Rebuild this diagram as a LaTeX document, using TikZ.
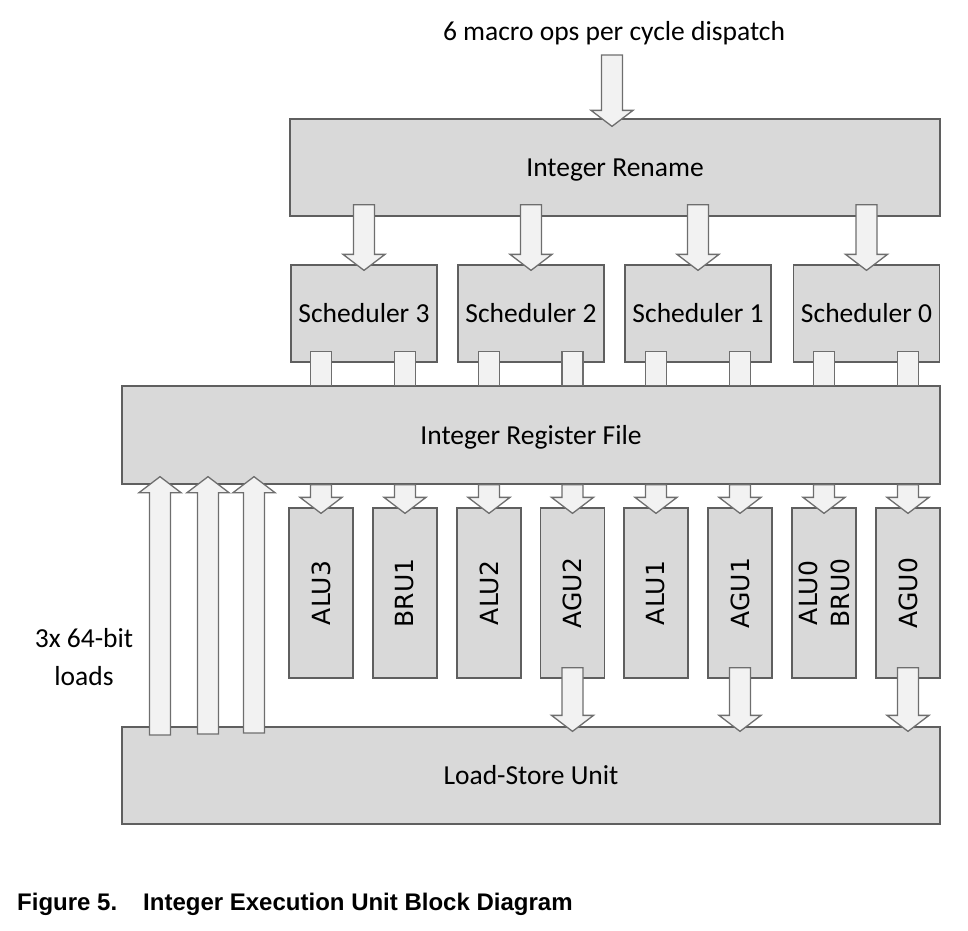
\documentclass[tikz,border=0pt]{standalone}
\usepackage{fontspec}
\setmainfont{Carlito}
\newfontfamily\unitfont{DejaVu Sans}
\newfontfamily\capfont{Liberation Sans}
\usepackage{tikz}
\usetikzlibrary{calc}
\definecolor{boxfill}{HTML}{D9D9D9}
\definecolor{boxline}{HTML}{5F5F5F}
\definecolor{arrfill}{HTML}{F2F2F2}
\definecolor{arrline}{HTML}{6E6E6E}
\tikzset{
    blk/.style={draw=boxline,fill=boxfill,line width=1.3pt,inner sep=0pt,
        text height=18pt,text depth=0pt,font=\fontsize{27.5}{33}\selectfont},
    unit/.style={draw=boxline,fill=boxfill,line width=1.3pt,inner sep=0pt,
        minimum width=64pt,minimum height=170pt},
    unitlbl/.style={rotate=90,align=center,inner sep=0pt,
        font=\unitfont\fontsize{25}{32}\selectfont},
    lbl/.style={font=\fontsize{27.5}{38}\selectfont,inner sep=0pt},
    blkarrow/.style={draw=arrline,fill=arrfill,line width=1.3pt}
}
\newcommand{\blkdown}[3]{%
    \draw[blkarrow] let \p1=(#1), \p2=(#2), \p3=(#3) in
        (\x1-10.5pt,\y2) -- (\x1+10.5pt,\y2) -- (\x1+10.5pt,\y3+16pt) -- (\x1+21pt,\y3+16pt)
        -- (\x1,\y3) -- (\x1-21pt,\y3+16pt) -- (\x1-10.5pt,\y3+16pt) -- cycle;}
\newcommand{\blkup}[3]{%
    \draw[blkarrow] let \p1=(#1), \p2=(#2), \p3=(#3) in
        (\x1-10.5pt,\y2) -- (\x1+10.5pt,\y2) -- (\x1+10.5pt,\y3-16pt) -- (\x1+21pt,\y3-16pt)
        -- (\x1,\y3) -- (\x1-21pt,\y3-16pt) -- (\x1-10.5pt,\y3-16pt) -- cycle;}
\newcommand{\blkbar}[3]{%
    \draw[blkarrow] let \p1=(#1), \p2=(#2), \p3=(#3) in
        (\x1-10.5pt,\y2) rectangle (\x1+10.5pt,\y3);}

\begin{document}
\begin{tikzpicture}[x=1pt, y=-1pt]
			\useasboundingbox (0,0) rectangle (968,930);
			\node[lbl, anchor=base] (dispatch) at (614,40) {6 macro ops per cycle dispatch};
			\coordinate (disp) at (612,55);
			\node[blk, minimum width=650pt, minimum height=97pt] (rename) at (615,167.5) {Integer Rename};
			\node[blk, minimum width=146pt, minimum height=97pt] (sch3) at (364,313.5) {Scheduler 3};
			\node[blk, minimum width=146pt, minimum height=97pt] (sch2) at (531,313.5) {Scheduler 2};
			\node[blk, minimum width=146pt, minimum height=97pt] (sch1) at (698,313.5) {Scheduler 1};
			\node[blk, minimum width=146pt, minimum height=97pt] (sch0) at (866.5,313.5) {Scheduler 0};
			\node[blk, minimum width=818pt, minimum height=98pt] (rf) at (531,435) {Integer Register File};
			\node[unit] (alu3) at (321,593) {};
			\node[unit] (bru1) at (405,593) {};
			\node[unit] (alu2) at (489,593) {};
			\node[unit] (agu2) at (572.5,593) {};
			\node[unit] (alu1) at (656,593) {};
			\node[unit] (agu1) at (740,593) {};
			\node[unit] (alu0) at (824,593) {};
			\node[unit] (agu0) at (908,593) {};
			\node[unitlbl] at (alu3) {ALU3};
			\node[unitlbl] at (bru1) {BRU1};
			\node[unitlbl] at (alu2) {ALU2};
			\node[unitlbl] at (agu2) {AGU2};
			\node[unitlbl] at (alu1) {ALU1};
			\node[unitlbl] at (agu1) {AGU1};
			\node[unitlbl] at (alu0) {ALU0\\BRU0};
			\node[unitlbl] at (agu0) {AGU0};
			\node[blk, minimum width=818pt, minimum height=97pt] (lsu) at (531,775.5) {Load-Store Unit};
			\coordinate (ld1) at (160,735);
			\coordinate (ld2) at (208,734);
			\coordinate (ld3) at (254,733);
			\node[lbl, align=center] (loads) at (84,657.5) {3x 64-bit\\loads};
			\blkdown{disp}{disp}{[yshift=-8pt]rename.north}
			\blkdown{sch3}{[yshift=12pt]rename.south}{[yshift=-6pt]sch3.north}
			\blkdown{sch2}{[yshift=12pt]rename.south}{[yshift=-6pt]sch2.north}
			\blkdown{sch1}{[yshift=12pt]rename.south}{[yshift=-6pt]sch1.north}
			\blkdown{sch0}{[yshift=12pt]rename.south}{[yshift=-6pt]sch0.north}
			\blkbar{alu3}{[yshift=11pt]sch3.south}{rf.north}
			\blkbar{bru1}{[yshift=11pt]sch3.south}{rf.north}
			\blkbar{alu2}{[yshift=11pt]sch2.south}{rf.north}
			\blkbar{agu2}{[yshift=11pt]sch2.south}{rf.north}
			\blkbar{alu1}{[yshift=11pt]sch1.south}{rf.north}
			\blkbar{agu1}{[yshift=11pt]sch1.south}{rf.north}
			\blkbar{alu0}{[yshift=11pt]sch0.south}{rf.north}
			\blkbar{agu0}{[yshift=11pt]sch0.south}{rf.north}
			\blkdown{alu3}{rf.south}{[yshift=-6pt]alu3.north}
			\blkdown{bru1}{rf.south}{[yshift=-6pt]bru1.north}
			\blkdown{alu2}{rf.south}{[yshift=-6pt]alu2.north}
			\blkdown{agu2}{rf.south}{[yshift=-6pt]agu2.north}
			\blkdown{alu1}{rf.south}{[yshift=-6pt]alu1.north}
			\blkdown{agu1}{rf.south}{[yshift=-6pt]agu1.north}
			\blkdown{alu0}{rf.south}{[yshift=-6pt]alu0.north}
			\blkdown{agu0}{rf.south}{[yshift=-6pt]agu0.north}
			\blkdown{agu2}{[yshift=11pt]agu2.south}{[yshift=-5pt]lsu.north}
			\blkdown{agu1}{[yshift=11pt]agu1.south}{[yshift=-5pt]lsu.north}
			\blkdown{agu0}{[yshift=11pt]agu0.south}{[yshift=-5pt]lsu.north}
			\blkup{ld1}{ld1}{[yshift=8pt]rf.south}
			\blkup{ld2}{ld2}{[yshift=8pt]rf.south}
			\blkup{ld3}{ld3}{[yshift=8pt]rf.south}
			\node[anchor=base west, inner sep=0pt, font=\capfont\bfseries\fontsize{24}{28}\selectfont] (caption) at (17,910) {Figure 5.\hspace{26pt}Integer Execution Unit Block Diagram};
		\end{tikzpicture}
\end{document}
